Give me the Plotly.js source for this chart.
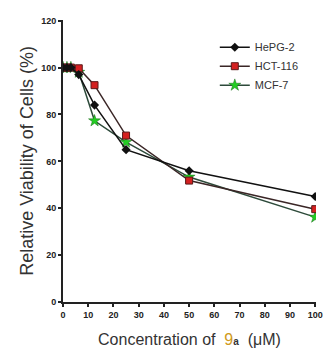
<!DOCTYPE html>
<html>
<head>
<meta charset="utf-8">
<script src="https://cdn.plot.ly/plotly-3.0.1.min.js"></script>
<style>html,body{margin:0;padding:0;background:#fff;}#chart{width:323px;height:350px;}</style>
</head>
<body>
<div id="chart"></div>
<script>
var concentrations = [0, 1.5625, 3.125, 6.25, 12.5, 25, 50, 100];
var hepg2 = [100, 100, 100, 97, 84, 65, 56, 45];
var hct116 = [100, 100, 100, 99.7, 92.5, 71, 51.8, 39.6];
var mcf7 = [100, 100, 100, 98, 77.3, 68.2, 53.3, 36.2];
var seriesNames = ['HePG-2', 'HCT-116', 'MCF-7'];
var xTicks = [0, 10, 20, 30, 40, 50, 60, 70, 80, 90, 100];
var yTicks = [0, 20, 40, 60, 80, 100, 120];

var traces = [
  {x: concentrations, y: mcf7, name: seriesNames[2], legendrank: 3, mode: 'lines+markers',
   line: {color: '#2d4a3a', width: 1.5},
   marker: {symbol: 'star', size: 9, color: '#22cc22', line: {color: '#1a6a1a', width: 0.5}}},
  {x: concentrations, y: hct116, name: seriesNames[1], legendrank: 2, mode: 'lines+markers',
   line: {color: '#3a2626', width: 1.5},
   marker: {symbol: 'square', size: 7, color: '#d42020', line: {color: '#5a1a1a', width: 1}}},
  {x: concentrations, y: hepg2, name: seriesNames[0], legendrank: 1, mode: 'lines+markers',
   line: {color: '#111', width: 1.5},
   marker: {symbol: 'diamond', size: 7, color: '#111'}}
];

var layout = {
  width: 323, height: 350,
  margin: {l: 63, r: 7, t: 20, b: 48},
  paper_bgcolor: '#fff', plot_bgcolor: '#fff',
  showlegend: true,
  legend: {x: 0.6, y: 0.955, xanchor: 'left', yanchor: 'top', traceorder: 'normal',
    font: {family: 'Liberation Sans, Arial, sans-serif', size: 11, color: '#333'},
    bgcolor: 'rgba(0,0,0,0)', tracegroupgap: 0},
  xaxis: {range: [0, 100.3], tickvals: xTicks, ticktext: xTicks.map(String),
    showgrid: false, zeroline: false, showline: true, linecolor: '#222', linewidth: 2,
    ticks: 'outside', ticklen: 3, tickwidth: 2, tickcolor: '#222',
    tickfont: {family: 'Liberation Sans, Arial, sans-serif', size: 9, color: '#222', weight: 'bold'},
    title: {text: 'Concentration of  <span style="color:#d09a20">9</span><b style="font-size:10px">a</b>  (μM)',
      font: {family: 'Liberation Sans, Arial, sans-serif', size: 16, color: '#333'}, standoff: 15}},
  yaxis: {range: [0, 120.3], tickvals: yTicks, ticktext: yTicks.map(String),
    showgrid: false, zeroline: false, showline: true, linecolor: '#222', linewidth: 2,
    ticks: 'outside', ticklen: 3, tickwidth: 2, tickcolor: '#222',
    tickfont: {family: 'Liberation Sans, Arial, sans-serif', size: 9, color: '#222', weight: 'bold'},
    title: {text: 'Relative Viability of Cells (%)',
      font: {family: 'Liberation Sans, Arial, sans-serif', size: 18, color: '#333'}, standoff: 3}}
};

Plotly.newPlot('chart', traces, layout, {displayModeBar: false, staticPlot: true});
</script>
</body>
</html>
